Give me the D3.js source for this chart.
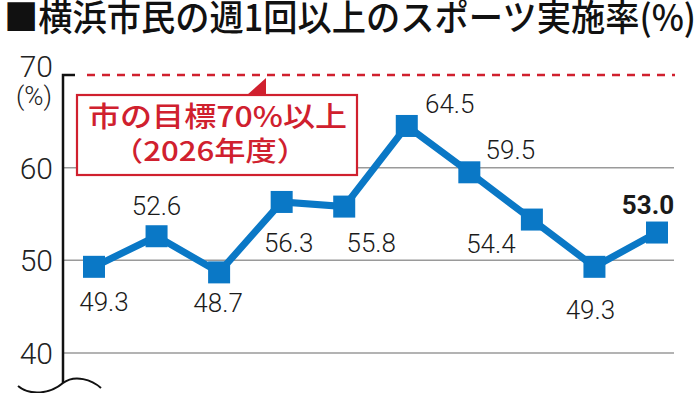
<!DOCTYPE html>
<html>
<head>
<meta charset="utf-8">
<script src="https://cdn.jsdelivr.net/npm/d3@7"></script>
<style>
  body { margin: 0; background: #fff; }
  svg { display: block; }
</style>
</head>
<body>
<script>
// survey rounds (no labels shown on the chart) and the rates
const rounds = ["1", "2", "3", "4", "5", "6", "7", "8", "9", "10"]
const rates = [49.3, 52.6, 48.7, 56.3, 55.8, 64.5, 59.5, 54.4, 49.3, 53.0]
const yTicks = [40, 50, 60, 70]
const target = 70

const title = "■横浜市民の週1回以上のスポーツ実施率(%)"
const calloutLines = ["市の目標70%以上", "（2026年度）"]

// where each value label sits relative to its marker
const labelOffset = [[10, 44], [0, -21], [-1, 40], [7, 50], [27, 45],
                     [43, -13], [41, -13], [-41, 33], [-4, 52], [-9, -19]]

const blue = "#0a78c6"
const red = "#d0202e"
const numFont = "Roboto, Liberation Sans, Arial, sans-serif"

let svg = d3.select("body").append("svg")
  .attr("width", 700).attr("height", 393)

let x = d3.scalePoint().domain(rounds).range([94, 657])
let y = d3.scaleLinear().domain([40, 70]).range([353, 75])

const axisX = 63

// title
svg.append("text")
  .attr("x", 4).attr("y", 31)
  .attr("font-family", "Noto Sans CJK JP")
  .attr("font-weight", 500)
  .attr("font-size", 36)
  .attr("textLength", 692)
  .attr("lengthAdjust", "spacingAndGlyphs")
  .attr("fill", "#111")
  .text(title)

// gridlines (not at 70, that one is the target line)
svg.selectAll(".grid")
  .data(yTicks.filter(d => d < target))
  .enter().append("line")
  .attr("class", "grid")
  .attr("x1", axisX).attr("x2", 674)
  .attr("y1", d => y(d)).attr("y2", d => y(d))
  .attr("stroke", "#9a9a9a").attr("stroke-width", 1.5)

// target dashed line
svg.append("line")
  .attr("x1", 87).attr("x2", 675)
  .attr("y1", y(target)).attr("y2", y(target))
  .attr("stroke", red).attr("stroke-width", 2.5)
  .attr("stroke-dasharray", "8,7")

// y tick labels
svg.selectAll(".tick-label")
  .data(yTicks)
  .enter().append("text")
  .attr("class", "tick-label")
  .attr("x", 53)
  .attr("y", d => d == target ? y(d) + 2 : y(d) + 11)
  .attr("text-anchor", "end")
  .attr("font-family", numFont)
  .attr("font-weight", 300)
  .attr("font-size", 30)
  .attr("fill", "#222")
  .text(d => d)

svg.append("text")
  .attr("x", 34).attr("y", 105)
  .attr("text-anchor", "middle")
  .attr("font-family", numFont)
  .attr("font-weight", 300)
  .attr("font-size", 26)
  .attr("fill", "#222")
  .text("(%)")

// y axis with top tick and break mark
svg.append("path")
  .attr("d", `M${axisX + 12},${y(target)} H${axisX} V383`)
  .attr("fill", "none").attr("stroke", "#111").attr("stroke-width", 2.5)

svg.append("path")
  .attr("d", "M18,386 C30,396 50,394 63,383 C75,374 92,380 101,388")
  .attr("fill", "none").attr("stroke", "#111").attr("stroke-width", 2)

// callout box
let box = svg.append("g")
box.append("rect")
  .attr("x", 77).attr("y", 95).attr("width", 280).attr("height", 80)
  .attr("fill", "#fff").attr("stroke", red).attr("stroke-width", 2.2)
box.append("path")
  .attr("d", "M247,95 L266,78 L266,95 Z")
  .attr("fill", red)
box.append("text")
  .attr("x", 88).attr("y", 127)
  .attr("font-family", "Noto Sans CJK JP")
  .attr("font-weight", 500)
  .attr("font-size", 28)
  .attr("textLength", 259)
  .attr("lengthAdjust", "spacingAndGlyphs")
  .attr("fill", red)
  .text(calloutLines[0])
box.append("text")
  .attr("x", 112).attr("y", 161)
  .attr("font-family", "Noto Sans CJK JP")
  .attr("font-weight", 500)
  .attr("font-size", 27)
  .attr("textLength", 196)
  .attr("lengthAdjust", "spacingAndGlyphs")
  .attr("fill", red)
  .text(calloutLines[1])

// line and markers
let pts = rounds.map((r, i) => ({ r: r, v: rates[i], i: i }))

svg.append("path")
  .datum(pts)
  .attr("d", d3.line().x(d => x(d.r)).y(d => y(d.v)))
  .attr("fill", "none").attr("stroke", blue).attr("stroke-width", 7)
  .attr("stroke-linejoin", "miter")

svg.selectAll(".marker")
  .data(pts)
  .enter().append("rect")
  .attr("class", "marker")
  .attr("x", d => x(d.r) - 11)
  .attr("y", d => y(d.v) - 11)
  .attr("width", 22).attr("height", 22)
  .attr("fill", blue)

// value labels
svg.selectAll(".value-label")
  .data(pts)
  .enter().append("text")
  .attr("class", "value-label")
  .attr("x", d => x(d.r) + labelOffset[d.i][0])
  .attr("y", d => y(d.v) + labelOffset[d.i][1])
  .attr("text-anchor", "middle")
  .attr("font-family", numFont)
  .attr("font-size", 26)
  .attr("font-weight", d => d.i == pts.length - 1 ? "bold" : 300)
  .attr("fill", "#1a1a1a")
  .text(d => d.v.toFixed(1))
</script>
</body>
</html>
